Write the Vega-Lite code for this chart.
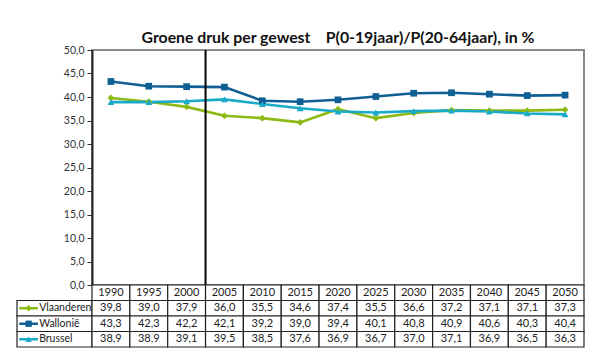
{
  "$schema": "https://vega.github.io/schema/vega-lite/v6.json",
  "autosize": {"type": "pad"},
  "padding": {"left": 16, "top": 29, "right": 8, "bottom": 4},
  "background": "white",
  "config": {
    "locale": {"number": {"decimal": ",", "thousands": ".", "grouping": [3], "currency": ["€", ""]}},
    "font": "Lato",
    "concat": {"spacing": 0}
  },
  "datasets": {
    "groen": [
      {"year": "1990", "series": "Vlaanderen", "value": 39.8},
      {"year": "1995", "series": "Vlaanderen", "value": 39.0},
      {"year": "2000", "series": "Vlaanderen", "value": 37.9},
      {"year": "2005", "series": "Vlaanderen", "value": 36.0},
      {"year": "2010", "series": "Vlaanderen", "value": 35.5},
      {"year": "2015", "series": "Vlaanderen", "value": 34.6},
      {"year": "2020", "series": "Vlaanderen", "value": 37.4},
      {"year": "2025", "series": "Vlaanderen", "value": 35.5},
      {"year": "2030", "series": "Vlaanderen", "value": 36.6},
      {"year": "2035", "series": "Vlaanderen", "value": 37.2},
      {"year": "2040", "series": "Vlaanderen", "value": 37.1},
      {"year": "2045", "series": "Vlaanderen", "value": 37.1},
      {"year": "2050", "series": "Vlaanderen", "value": 37.3},
      {"year": "1990", "series": "Wallonië", "value": 43.3},
      {"year": "1995", "series": "Wallonië", "value": 42.3},
      {"year": "2000", "series": "Wallonië", "value": 42.2},
      {"year": "2005", "series": "Wallonië", "value": 42.1},
      {"year": "2010", "series": "Wallonië", "value": 39.2},
      {"year": "2015", "series": "Wallonië", "value": 39.0},
      {"year": "2020", "series": "Wallonië", "value": 39.4},
      {"year": "2025", "series": "Wallonië", "value": 40.1},
      {"year": "2030", "series": "Wallonië", "value": 40.8},
      {"year": "2035", "series": "Wallonië", "value": 40.9},
      {"year": "2040", "series": "Wallonië", "value": 40.6},
      {"year": "2045", "series": "Wallonië", "value": 40.3},
      {"year": "2050", "series": "Wallonië", "value": 40.4},
      {"year": "1990", "series": "Brussel", "value": 38.9},
      {"year": "1995", "series": "Brussel", "value": 38.9},
      {"year": "2000", "series": "Brussel", "value": 39.1},
      {"year": "2005", "series": "Brussel", "value": 39.5},
      {"year": "2010", "series": "Brussel", "value": 38.5},
      {"year": "2015", "series": "Brussel", "value": 37.6},
      {"year": "2020", "series": "Brussel", "value": 36.9},
      {"year": "2025", "series": "Brussel", "value": 36.7},
      {"year": "2030", "series": "Brussel", "value": 37.0},
      {"year": "2035", "series": "Brussel", "value": 37.1},
      {"year": "2040", "series": "Brussel", "value": 36.9},
      {"year": "2045", "series": "Brussel", "value": 36.5},
      {"year": "2050", "series": "Brussel", "value": 36.3}
    ],
    "jaren": [
      {"year": "1990"}, {"year": "1995"}, {"year": "2000"}, {"year": "2005"}, {"year": "2010"},
      {"year": "2015"}, {"year": "2020"}, {"year": "2025"}, {"year": "2030"}, {"year": "2035"},
      {"year": "2040"}, {"year": "2045"}, {"year": "2050"}
    ],
    "reeksen": [
      {"series": "Vlaanderen"}, {"series": "Wallonië"}, {"series": "Brussel"}
    ]
  },
  "columns": 2,
  "spacing": 0,
  "bounds": "flush",
  "resolve": {"scale": {"x": "independent", "y": "independent", "color": "independent", "shape": "independent"}},
  "concat": [
    {
      "width": 75,
      "height": 235,
      "view": {"stroke": null},
      "data": {"values": []},
      "mark": "point",
      "encoding": {}
    },
    {
      "width": 492,
      "height": 235,
      "title": {
        "text": "Groene druk per gewest\u00a0\u00a0\u00a0 P(0-19jaar)/P(20-64jaar), in %",
        "font": "Lato",
        "fontSize": 15.8,
        "fontWeight": "bold",
        "color": "#111111",
        "frame": "group",
        "anchor": "middle",
        "offset": -2
      },
      "view": {"stroke": "#8a8a8a", "strokeWidth": 2},
      "layer": [
        {
          "data": {"name": "groen"},
          "encoding": {
            "x": {
              "field": "year", "type": "ordinal", "bandPosition": 0.5,
              "scale": {"type": "band", "domain": ["1990","1995","2000","2005","2010","2015","2020","2025","2030","2035","2040","2045","2050"], "paddingInner": 0, "paddingOuter": 0},
              "axis": null
            },
            "y": {
              "field": "value", "type": "quantitative",
              "scale": {"domain": [0, 50], "nice": false},
              "axis": {
                "values": [0, 5, 10, 15, 20, 25, 30, 35, 40, 45, 50],
                "format": ".1f", "grid": false, "title": null,
                "labelOverlap": false, "labelBound": false,
                "labelFont": "Lato", "labelFontSize": 10.5, "labelColor": "#333333",
                "tickSize": 5, "tickColor": "#333333", "tickWidth": 1,
                "domainColor": "#222222", "domainWidth": 2, "labelPadding": 3
              }
            },
            "color": {
              "field": "series", "type": "nominal",
              "scale": {"domain": ["Vlaanderen", "Wallonië", "Brussel"], "range": ["#8cba14", "#0f5f94", "#19a9c9"]},
              "legend": null
            },
            "shape": {
              "field": "series", "type": "nominal",
              "scale": {"domain": ["Vlaanderen", "Wallonië", "Brussel"], "range": ["diamond", "square", "triangle-up"]},
              "legend": null
            }
          },
          "layer": [
            {"mark": {"type": "line", "strokeWidth": 2.6}},
            {"mark": {"type": "point", "filled": true, "opacity": 1, "size": 45}}
          ]
        },
        {
          "data": {"values": [{}]},
          "mark": {"type": "rule", "color": "#000000", "strokeWidth": 2},
          "encoding": {"x": {"datum": "2005", "type": "ordinal", "bandPosition": 0}}
        }
      ]
    },
    {
      "width": 75,
      "height": 62,
      "view": {"stroke": null},
      "data": {"name": "reeksen"},
      "layer": [
        {
          "mark": {"type": "rect", "fill": "white", "stroke": "#222222", "strokeWidth": 1.2},
          "encoding": {
            "y": {
              "field": "series", "type": "nominal",
              "scale": {"type": "band", "domain": ["hdr", "Vlaanderen", "Wallonië", "Brussel"], "paddingInner": 0, "paddingOuter": 0},
              "axis": null
            }
          }
        },
        {
          "mark": {"type": "rule", "strokeWidth": 2.5},
          "encoding": {
            "y": {"field": "series", "type": "nominal", "bandPosition": 0.5},
            "x": {"datum": 0.03, "type": "quantitative", "scale": {"domain": [0, 1], "nice": false, "zero": false}, "axis": null},
            "x2": {"datum": 0.28},
            "color": {
              "field": "series", "type": "nominal",
              "scale": {"domain": ["Vlaanderen", "Wallonië", "Brussel"], "range": ["#8cba14", "#0f5f94", "#19a9c9"]},
              "legend": null
            }
          }
        },
        {
          "mark": {"type": "point", "filled": true, "opacity": 1, "size": 40},
          "encoding": {
            "y": {"field": "series", "type": "nominal", "bandPosition": 0.5},
            "x": {"datum": 0.155, "type": "quantitative"},
            "color": {"field": "series", "type": "nominal", "legend": null},
            "shape": {
              "field": "series", "type": "nominal",
              "scale": {"domain": ["Vlaanderen", "Wallonië", "Brussel"], "range": ["diamond", "square", "triangle-up"]},
              "legend": null
            }
          }
        },
        {
          "mark": {"type": "text", "align": "left", "baseline": "middle", "font": "Lato", "fontSize": 10.5, "color": "#222222"},
          "encoding": {
            "y": {"field": "series", "type": "nominal", "bandPosition": 0.5},
            "x": {"datum": 0.295, "type": "quantitative"},
            "text": {"field": "series"}
          }
        }
      ]
    },
    {
      "width": 492,
      "height": 62,
      "view": {"stroke": null},
      "layer": [
        {
          "data": {"name": "jaren"},
          "mark": {"type": "rect", "fill": "white", "stroke": "#222222", "strokeWidth": 1.2},
          "encoding": {
            "x": {
              "field": "year", "type": "ordinal",
              "scale": {"type": "band", "domain": ["1990","1995","2000","2005","2010","2015","2020","2025","2030","2035","2040","2045","2050"], "paddingInner": 0, "paddingOuter": 0},
              "axis": null
            },
            "y": {
              "datum": "hdr", "type": "nominal",
              "scale": {"type": "band", "domain": ["hdr", "Vlaanderen", "Wallonië", "Brussel"], "paddingInner": 0, "paddingOuter": 0},
              "axis": null
            }
          }
        },
        {
          "data": {"name": "groen"},
          "mark": {"type": "rect", "fill": "white", "stroke": "#222222", "strokeWidth": 1.2},
          "encoding": {
            "x": {"field": "year", "type": "ordinal"},
            "y": {"field": "series", "type": "nominal"}
          }
        },
        {
          "data": {"name": "jaren"},
          "mark": {"type": "text", "align": "center", "baseline": "middle", "font": "Lato", "fontSize": 11, "color": "#222222"},
          "encoding": {
            "x": {"field": "year", "type": "ordinal", "bandPosition": 0.5},
            "y": {"datum": "hdr", "type": "nominal", "bandPosition": 0.5},
            "text": {"field": "year"}
          }
        },
        {
          "data": {"name": "groen"},
          "mark": {"type": "text", "align": "center", "baseline": "middle", "font": "Lato", "fontSize": 11, "color": "#222222"},
          "encoding": {
            "x": {"field": "year", "type": "ordinal", "bandPosition": 0.5},
            "y": {"field": "series", "type": "nominal", "bandPosition": 0.5},
            "text": {"field": "value", "type": "quantitative", "format": ".1f"}
          }
        }
      ]
    }
  ]
}
